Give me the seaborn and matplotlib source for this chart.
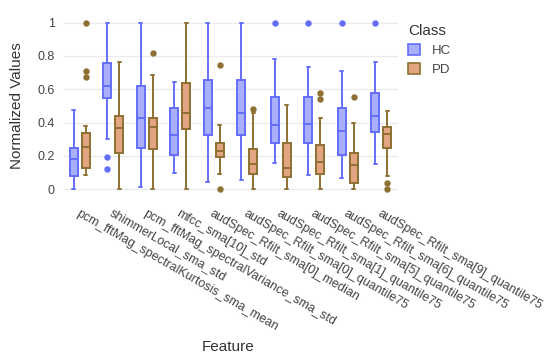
import numpy as np
import pandas as pd
import matplotlib
matplotlib.use("Agg")
import matplotlib.pyplot as plt
import seaborn as sns
from matplotlib.patches import Patch

features = [
    "pcm_fftMag_spectralKurtosis_sma_mean",
    "shimmerLocal_sma_std",
    "pcm_fftMag_spectralVariance_sma_std",
    "mfcc_sma[10]_std",
    "audSpec_Rfilt_sma[0]_median",
    "audSpec_Rfilt_sma[0]_quantile75",
    "audSpec_Rfilt_sma[1]_quantile75",
    "audSpec_Rfilt_sma[5]_quantile75",
    "audSpec_Rfilt_sma[6]_quantile75",
    "audSpec_Rfilt_sma[9]_quantile75",
]
classes = ["HC", "PD"]

# Five-number summaries (per feature)
hc_low = [0.00, 0.30, 0.016, 0.10, 0.046, 0.056, 0.156, 0.086, 0.066, 0.15]
hc_q1 = [0.08, 0.546, 0.25, 0.206, 0.326, 0.326, 0.28, 0.276, 0.208, 0.342]
hc_med = [0.18, 0.62, 0.426, 0.326, 0.486, 0.456, 0.386, 0.392, 0.35, 0.442]
hc_q3 = [0.25, 0.76, 0.62, 0.486, 0.656, 0.656, 0.552, 0.552, 0.49, 0.576]
hc_high = [0.476, 1.00, 1.00, 0.642, 1.00, 1.00, 0.784, 0.736, 0.712, 0.766]
hc_out = [[], [0.196, 0.12], [], [], [], [], [1.0], [1.0], [1.0], [1.0]]

pd_low = [0.086, 0.00, 0.00, 0.00, 0.092, 0.00, 0.00, 0.00, 0.00, 0.08]
pd_q1 = [0.126, 0.22, 0.24, 0.362, 0.196, 0.092, 0.076, 0.092, 0.036, 0.25]
pd_med = [0.256, 0.366, 0.376, 0.456, 0.232, 0.152, 0.126, 0.166, 0.146, 0.332]
pd_q3 = [0.34, 0.44, 0.426, 0.636, 0.28, 0.242, 0.276, 0.268, 0.216, 0.372]
pd_high = [0.38, 0.764, 0.686, 1.00, 0.386, 0.456, 0.504, 0.426, 0.396, 0.472]
pd_out = [[1.0, 0.71, 0.676], [], [0.816], [], [0.744, 0.0], [0.484], [], [0.58, 0.544], [0.556], [0.04, 0.0]]

# Expand each summary into a representative sample whose quartiles,
# whisker ends and outliers equal the values read above.
rows = []
summ = {
    "HC": (hc_low, hc_q1, hc_med, hc_q3, hc_high, hc_out),
    "PD": (pd_low, pd_q1, pd_med, pd_q3, pd_high, pd_out),
}
for cls in classes:
    lo, q1, md, q3, hi, out = summ[cls]
    for i, f in enumerate(features):
        vals = [lo[i]] + [q1[i]] * 10 + [md[i]] * 10 + [q3[i]] * 10 + [hi[i]] + list(out[i])
        for v in vals:
            rows.append({"Feature": f, "Value": v, "Class": cls})
df = pd.DataFrame(rows)

line_colors = {"HC": "#636EFA", "PD": "#8E7033"}
fill_colors = {"HC": "#A9AFFB", "PD": "#E3A482"}

sns.set_theme(style="white")
plt.rcParams["font.family"] = ["Liberation Sans", "DejaVu Sans"]

fig = plt.figure(figsize=(5.5, 3.61), dpi=100)
ax = fig.add_axes([0.1145, 0.457, 0.609, 0.499])

sns.boxplot(
    data=df, x="Feature", y="Value", hue="Class", order=features,
    hue_order=classes, palette=fill_colors, width=0.72, gap=0.33,
    linewidth=1.4, fliersize=3.5, ax=ax, legend=False,
)

for cont, cls in zip(ax.containers, classes):
    lc = line_colors[cls]
    for b in cont.boxes:
        b.set_facecolor(fill_colors[cls])
        b.set_edgecolor(lc)
        b.set_linewidth(1.4)
    for ln in list(cont.medians) + list(cont.whiskers):
        ln.set_color(lc)
        ln.set_linewidth(1.4)
    for ln in cont.caps:
        ln.set_color(lc)
        ln.set_linewidth(1.4)
        xd = np.asarray(ln.get_xdata(), dtype=float)
        c = xd.mean()
        ln.set_xdata([c - 0.045, c + 0.045])
    for fl in cont.fliers:
        fl.set_marker("o")
        fl.set_markerfacecolor(lc)
        fl.set_markeredgecolor(lc)
        fl.set_markersize(3.6)

ax.set_ylim(-0.04, 1.04)
ax.set_xlim(-0.5, len(features) - 0.5)
yt = [0, 0.2, 0.4, 0.6, 0.8, 1.0]
ax.set_yticks(yt)
ax.set_yticklabels(["0", "0.2", "0.4", "0.6", "0.8", "1"])
ax.yaxis.grid(True, color="#EBEBEB", linewidth=1)
ax.xaxis.grid(False)
ax.set_axisbelow(True)
for s in ax.spines.values():
    s.set_visible(False)

ax.tick_params(axis="y", labelsize=9, colors="#444444", length=0, pad=6)
ax.tick_params(axis="x", labelsize=9, colors="#444444", length=0, pad=8)
ax.set_xticks(range(len(features)))
ax.set_xticklabels(features, rotation=-30, ha="left", va="top", rotation_mode="anchor")

ax.set_xlabel("")
ax.set_ylabel("")
fig.text(228 / 550, 1 - 347 / 361, "Feature", fontsize=11, color="#333333",
         ha="center", va="center")
fig.text(17 / 550, 1 - 106 / 361, "Normalized Values", fontsize=11, color="#333333",
         ha="center", va="center", rotation=90)

handles = [Patch(facecolor=fill_colors[c], edgecolor=line_colors[c], linewidth=1.2, label=c)
           for c in classes]
leg = fig.legend(handles=handles, title="Class", loc="upper left",
                 bbox_to_anchor=(396 / 550, 1 - 12 / 361), frameon=False,
                 fontsize=9.5, title_fontsize=11, handlelength=0.9, handleheight=0.9,
                 handletextpad=0.9, labelspacing=0.45)
leg._legend_box.align = "left"
for t in leg.get_texts():
    t.set_color("#444444")
leg.get_title().set_color("#333333")

fig.savefig("out.png", dpi=100)
